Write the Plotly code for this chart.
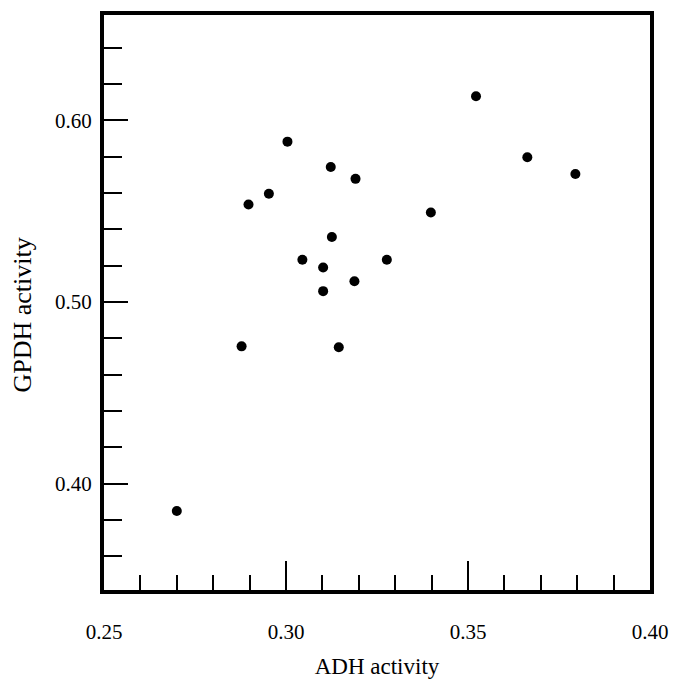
import plotly.graph_objects as go

adh = [0.270, 0.2878, 0.2897, 0.2953, 0.3004, 0.3045, 0.3102, 0.3102, 0.3123,
       0.3126, 0.3145, 0.3191, 0.3188, 0.3277, 0.3398, 0.3522, 0.3663, 0.3795]
gpdh = [0.385, 0.4756, 0.5537, 0.5596, 0.5883, 0.5233, 0.5190, 0.5060, 0.5743,
        0.5358, 0.4751, 0.5678, 0.5114, 0.5233, 0.5493, 0.6133, 0.5797, 0.5705]

x_ticks = [0.25, 0.30, 0.35, 0.40]
x_labels = ["0.25", "0.30", "0.35", "0.40"]
y_ticks = [0.40, 0.50, 0.60]
y_labels = ["0.40", "0.50", "0.60"]

FONT = "Liberation Serif"

fig = go.Figure()
fig.add_trace(go.Scatter(
    x=adh, y=gpdh, mode="markers",
    marker=dict(color="black", size=10, line=dict(width=0)),
    showlegend=False, hoverinfo="skip",
))

fig.update_layout(
    width=679, height=687,
    margin=dict(l=104, r=21, t=11, b=92),
    paper_bgcolor="white", plot_bgcolor="white",
    font=dict(family=FONT, color="black", size=21),
)

fig.update_xaxes(
    range=[0.25, 0.40],
    tickmode="array", tickvals=x_ticks, ticktext=x_labels,
    ticks="inside", ticklen=29, tickwidth=1.5, tickcolor="black",
    minor=dict(ticks="inside", ticklen=15, tickwidth=1.5, tickcolor="black", dtick=0.01, tick0=0.25),
    showline=True, linewidth=4, linecolor="black", mirror=True,
    showgrid=False, zeroline=False,
    tickfont=dict(family=FONT, size=21),
    ticklabelstandoff=20,
    title=dict(text="ADH activity", font=dict(family=FONT, size=23), standoff=16),
)
fig.update_yaxes(
    range=[0.3415, 0.658],
    tickmode="array", tickvals=y_ticks, ticktext=y_labels,
    ticks="inside", ticklen=24, tickwidth=1.5, tickcolor="black",
    minor=dict(ticks="inside", ticklen=18, tickwidth=1.5, tickcolor="black", dtick=0.02, tick0=0.34),
    showline=True, linewidth=4, linecolor="black", mirror=True,
    showgrid=False, zeroline=False,
    tickfont=dict(family=FONT, size=21),
    ticklabelstandoff=4,
)

fig.add_annotation(
    text="GPDH activity", textangle=-90, showarrow=False,
    xref="paper", yref="paper", x=0, y=0.5,
    xanchor="center", yanchor="middle", xshift=-82, yshift=-13,
    font=dict(family=FONT, size=26, color="black"),
)

fig.write_html(
    "out.html",
    config={"displayModeBar": False},
    post_script="document.body.style.margin='0';document.body.style.overflow='hidden';",
)
